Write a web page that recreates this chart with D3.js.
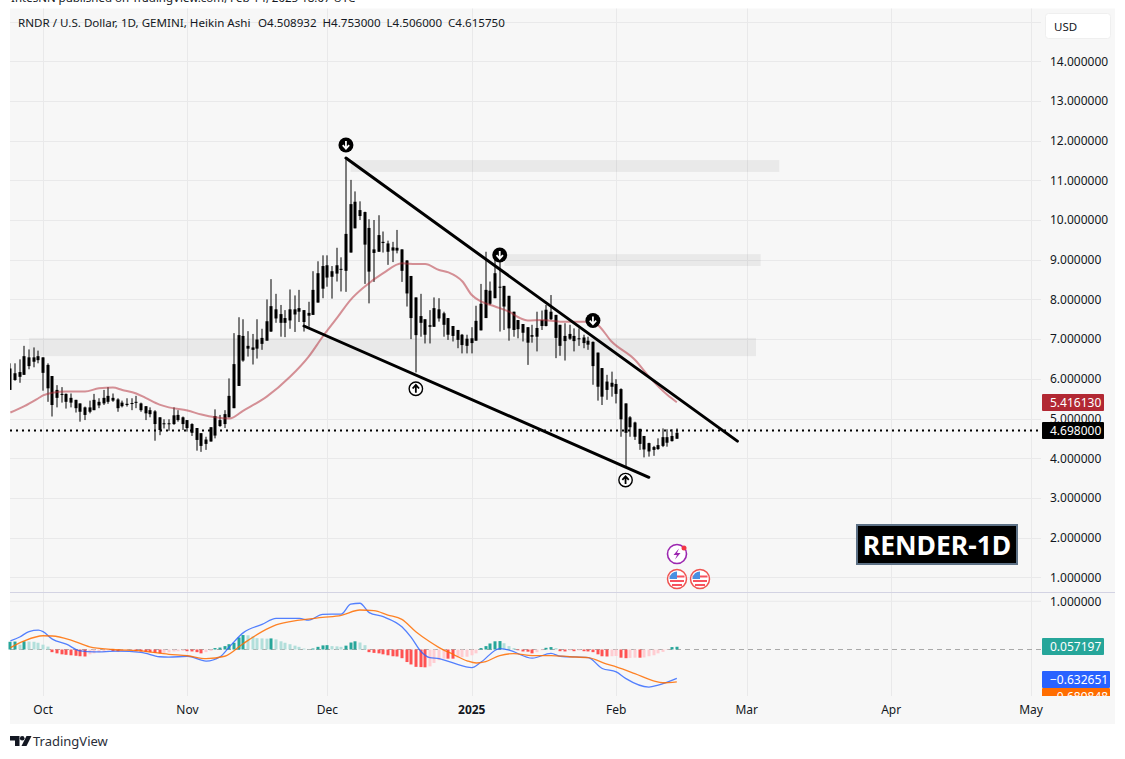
<!doctype html>
<html>
  <head>
    <meta http-equiv="Content-Type" content="text/html; charset=UTF-8">
    <style>
      html, body { margin: 0; padding: 0; background: #fff; overflow: hidden; }
      svg { display: block; }
      text { font-family: "Noto Sans", sans-serif; fill: #131722; }
    </style>
  </head>
  <body>
    <div id="chart"></div>
    <script src="https://d3js.org/d3.v7.min.js"></script>
    <script>
      // daily Heikin Ashi candles, first one is 24 Sep 2024
      var firstDay = Date.UTC(2024, 8, 24);
      var high = [6.39,6.39,6.49,6.83,6.74,6.79,6.71,6.54,6.39,6.07,5.84,5.79,5.63,5.63,5.47,5.38,5.30,5.45,5.62,5.51,5.72,5.79,5.63,5.51,5.45,5.51,5.51,5.57,5.40,5.31,5.28,5.21,5.03,4.98,4.98,5.28,5.21,5.05,4.96,4.88,4.76,4.63,4.54,4.78,5.23,5.09,5.21,
        6.01,7.15,7.55,7.50,7.20,7.13,7.50,7.26,8.00,8.51,8.14,7.86,7.73,8.25,8.10,8.24,7.73,7.94,8.71,8.96,9.11,9.11,8.84,9.30,9.06,11.53,11.01,10.72,10.47,10.21,10.02,10.00,10.12,9.71,9.48,9.45,9.75,9.26,8.99,8.59,8.05,8.14,7.50,7.73,8.05,8.03,
        7.69,7.53,7.33,7.23,7.13,7.11,7.30,7.84,8.39,9.20,8.45,9.16,9.00,8.34,8.09,7.69,7.48,7.38,7.30,7.36,7.69,7.72,7.86,8.11,7.61,7.36,7.40,7.36,7.27,7.27,7.11,7.06,6.94,6.66,6.27,6.10,6.18,5.99,5.76,5.38,5.06,4.92,4.74,4.56,4.39,4.31,4.50,4.75,4.73,4.73,4.75];
      var bodyTop = [6.26,6.14,6.17,6.57,6.54,6.54,6.57,6.54,6.35,6.07,5.72,5.62,5.62,5.52,5.47,5.38,5.28,5.28,5.47,5.42,5.52,5.57,5.52,5.48,5.40,5.37,5.39,5.42,5.38,5.31,5.21,5.18,5.03,4.88,4.88,5.08,5.09,5.03,4.96,4.86,4.76,4.63,4.47,4.78,5.06,4.96,5.11,
        5.57,6.37,7.10,7.08,6.83,6.79,6.99,7.03,7.45,7.83,7.75,7.63,7.53,7.75,7.75,7.78,7.73,7.66,8.24,8.66,8.84,8.86,8.71,8.86,8.77,9.65,10.40,10.46,10.25,10.20,9.80,9.26,9.62,9.45,9.41,9.31,9.30,9.26,8.98,8.59,8.05,7.58,7.50,7.35,7.78,7.75,
        7.65,7.53,7.33,7.23,7.11,7.01,7.02,7.46,7.89,8.24,8.22,8.66,8.32,8.34,8.09,7.69,7.48,7.38,7.30,7.10,7.28,7.48,7.74,7.69,7.61,7.36,7.08,7.13,7.08,7.02,7.04,6.96,6.93,6.66,6.27,5.93,5.90,5.87,5.74,5.38,5.03,4.90,4.74,4.56,4.38,4.28,4.33,4.53,4.53,4.56,4.64];
      var bodyBottom = [5.72,5.97,6.05,6.10,6.32,6.43,6.47,6.15,5.76,5.34,5.52,5.60,5.42,5.40,5.26,5.17,5.09,5.17,5.21,5.33,5.38,5.42,5.45,5.26,5.31,5.34,5.37,5.40,5.21,5.13,5.11,4.86,4.71,4.86,4.86,4.86,4.96,4.86,4.76,4.64,4.46,4.31,4.36,4.42,4.57,4.81,4.86,
        5.03,5.26,5.82,6.46,6.76,6.73,6.76,6.88,6.96,7.19,7.52,7.41,7.41,7.47,7.62,7.69,7.43,7.59,7.61,7.92,8.27,8.55,8.57,8.65,8.75,8.72,9.18,9.79,10.10,9.38,8.70,9.17,9.20,9.42,9.20,9.23,9.23,8.72,8.15,7.53,7.10,7.41,7.11,7.31,7.31,7.52,
        7.36,7.11,7.08,6.98,6.85,6.83,6.90,6.96,7.22,7.53,7.89,8.03,8.31,7.82,7.27,7.23,7.25,7.16,6.91,7.06,7.06,7.33,7.33,7.50,7.03,6.83,6.95,7.01,6.95,7.01,6.90,6.86,6.32,5.80,5.55,5.72,5.80,5.62,4.98,4.64,4.78,4.54,4.36,4.22,4.17,4.21,4.23,4.31,4.39,4.43,4.49];
      var low = [5.72,5.95,5.90,6.10,6.24,6.29,6.39,5.70,5.42,5.05,5.28,5.40,5.25,5.28,5.15,4.92,4.96,5.13,5.21,5.26,5.34,5.37,5.42,5.17,5.28,5.30,5.21,5.26,5.17,4.96,5.03,4.44,4.58,4.75,4.69,4.84,4.92,4.71,4.67,4.56,4.19,4.16,4.21,4.42,4.50,4.79,4.76,
        5.03,5.26,5.82,6.43,6.56,6.36,6.51,6.73,6.96,7.18,7.41,7.06,7.05,7.26,7.18,7.43,7.19,7.31,7.61,7.92,8.03,8.32,8.02,8.45,8.20,8.19,9.18,9.79,10.00,8.39,7.90,8.44,9.20,9.18,8.87,8.94,9.16,8.44,7.82,7.00,6.16,7.06,6.89,6.89,7.31,7.44,
        7.06,6.98,6.94,6.77,6.64,6.64,6.64,6.96,7.22,7.53,7.86,8.03,7.19,7.23,6.96,7.06,7.02,6.94,6.35,6.91,6.69,7.23,7.32,7.48,6.52,6.58,6.46,6.98,6.69,6.83,6.77,6.73,5.85,5.45,5.34,5.47,5.55,5.38,4.54,3.79,4.54,4.46,4.21,4.02,4.04,4.06,4.21,4.28,4.29,4.42,4.49];

      // moving average, read at a set of day offsets
      var maDays = [0,3,6,7,9,12,16,19,22,24,27,29,32,34,38,41,44,47,50,55,60,64,67,70,73,76,80,84,87,89,92,94,97,99,101,104,107,109,111,114,118,124,126,129,134,137,141,143];
      var maVals = [5.15,5.31,5.51,5.58,5.65,5.68,5.68,5.76,5.78,5.72,5.63,5.52,5.35,5.28,5.20,5.10,5.03,5.00,5.20,5.55,6.05,6.56,7.06,7.52,7.99,8.32,8.66,8.91,8.89,8.89,8.74,8.68,8.45,8.11,7.95,7.82,7.69,7.55,7.47,7.48,7.44,7.44,7.36,6.94,6.48,6.06,5.59,5.41];

      // MACD pane
      var hist = [.16,.165,.10,.17,.165,.16,.14,.10,.06,-.055,-.08,-.10,-.11,-.12,-.13,-.14,-.145,-.10,-.08,-.06,-.05,-.02,-.03,-.04,-.03,-.02,-.01,-.035,-.04,-.05,-.055,-.07,-.08,-.07,-.06,-.04,-.035,-.03,-.035,-.04,-.055,-.08,-.055,-.03,.03,.04,.07,.11,.14,.25,.30,.295,.27,.235,.23,.225,.23,.21,.17,.14,.11,.08,.055,.02,.007,.02,.055,.085,.09,.07,.065,.055,.08,.145,.17,.145,.09,
        -.055,-.07,-.08,-.10,-.12,-.14,-.145,-.18,-.26,-.31,-.36,-.365,-.37,-.35,-.28,-.22,-.19,-.19,-.19,-.17,-.16,-.15,-.12,-.08,.03,.07,.125,.17,.175,.13,.07,.03,-.015,-.04,-.045,-.08,-.055,-.015,.035,.05,.03,-.035,-.04,-.02,-.035,-.02,-.035,-.04,-.055,-.10,-.14,-.145,-.14,-.135,-.17,-.18,-.175,-.17,-.17,-.165,-.14,-.12,-.08,-.05,-.01,.05,.057];
      var macdDays = [0,2,4,6,7,9,12,15,18,23,28,32,34,38,42,45,47,50,54,57,62,64,67,71,73,75,77,80,84,86,88,90,92,95,99,101,105,107,112,116,118,124,127,130,132,137,139,143];
      var macdVals = [.18,.26,.37,.40,.37,.215,.11,-.03,-.05,-.035,-.06,-.15,-.16,-.14,-.24,-.15,.055,.35,.52,.645,.645,.61,.73,.735,.94,.96,.765,.68,.47,.25,-.03,-.17,-.19,-.28,-.375,-.26,.02,-.015,-.18,-.08,-.14,-.17,-.395,-.465,-.60,-.78,-.74,-.60];
      var signalDays = [0,3,7,9,13,17,22,28,34,38,42,46,50,54,57,62,67,71,75,78,81,84,87,90,92,95,98,100,102,105,108,112,116,120,124,128,130,134,138,140,143];
      var signalVals = [.04,.18,.285,.28,.195,.055,0,-.03,-.10,-.13,-.19,-.14,.125,.37,.51,.61,.665,.71,.82,.805,.715,.625,.37,.16,.04,-.10,-.235,-.28,-.25,-.125,-.085,-.125,-.125,-.15,-.17,-.305,-.36,-.50,-.65,-.69,-.67];

      // drawings: [day offset, price]
      var lineUpper = [[72, 11.56], [156, 4.43]];
      var lineLower = [[63, 7.33], [137, 3.52]];
      // grey zones: [from day, to day, price top, price bottom]
      var zones = [[73, 165, 11.51, 11.21], [106, 161, 9.14, 8.84], [4, 160, 7.03, 6.57]];
      // arrow markers: [day offset, price]
      var downMarks = [[72, 11.89], [105, 9.12], [125, 7.47]];
      var upMarks = [[87, 5.75], [132, 3.45]];

      var priceTicks = [1,2,3,4,5,6,7,8,9,10,11,12,13,14];
      var monthTicks = [Date.UTC(2024,9,1), Date.UTC(2024,10,1), Date.UTC(2024,11,1), Date.UTC(2025,0,1),
                        Date.UTC(2025,1,1), Date.UTC(2025,2,1), Date.UTC(2025,3,1), Date.UTC(2025,4,1)];
      var monthLabels = ["Oct","Nov","Dec","2025","Feb","Mar","Apr","May"];

      var lastPrice = 4.698;
      var title = "RNDR / U.S. Dollar, 1D, GEMINI, Heikin Ashi";
      var ohlc = ["O4.508932", "H4.753000", "L4.506000", "C4.615750"];
      var ohlcX = [258, 322.5, 386.5, 448];

      var width = 1125, height = 759, plotRight = 1041;
      var day = function(i) { return new Date(firstDay + i * 864e5); };

      var x = d3.scaleUtc()
          .domain([day(0), new Date(monthTicks[7])])
          .range([10.4, 1031]);
      var y = d3.scaleLinear().domain([0, 15]).range([617, 21.5]);
      var yM = d3.scaleLinear().domain([-1, 1]).range([697.7, 601.3]);

      var svg = d3.select("#chart").append("svg")
          .attr("width", width).attr("height", height);

      svg.append("text").attr("x", 11).attr("y", 2)
          .style("font-size", "11.5px")
          .text("IntesNN published on TradingView.com, Feb 14, 2025 18:07 UTC");

      svg.append("rect").attr("x", 10).attr("y", 8.5)
          .attr("width", 1105).attr("height", 715.5).attr("fill", "#f7f7f7");

      // grid
      var grid = svg.append("g").attr("stroke", "#e9e9ea").attr("fill", "none");
      grid.selectAll(".h").data(priceTicks.concat([15])).enter().append("line")
          .attr("x1", 10).attr("x2", plotRight)
          .attr("y1", function(d) { return Math.round(y(d)) + .5; })
          .attr("y2", function(d) { return Math.round(y(d)) + .5; });
      grid.append("line").attr("x1", 10).attr("x2", plotRight)
          .attr("y1", yM(1)).attr("y2", yM(1));
      grid.selectAll(".v").data(monthTicks).enter().append("line")
          .attr("x1", function(d) { return Math.round(x(new Date(d))) + .5; })
          .attr("x2", function(d) { return Math.round(x(new Date(d))) + .5; })
          .attr("y1", 8.5).attr("y2", 696);

      svg.append("line").attr("x1", 10).attr("x2", 1115)
          .attr("y1", 592.5).attr("y2", 592.5).attr("stroke", "#d3d3e3");

      // zones
      svg.selectAll(".zone").data(zones).enter().append("rect")
          .attr("x", function(d) { return x(day(d[0])); })
          .attr("width", function(d) { return x(day(d[1])) - x(day(d[0])); })
          .attr("y", function(d) { return y(d[2]); })
          .attr("height", function(d) { return y(d[3]) - y(d[2]); })
          .attr("fill", "#000").attr("fill-opacity", .055);

      // candles
      var candles = svg.append("g").attr("clip-path", "url(#plotclip)");
      svg.append("clipPath").attr("id", "plotclip").append("rect")
          .attr("x", 10).attr("y", 9).attr("width", 1031).attr("height", 583);
      high.forEach(function(h, i) {
          var cx = Math.round(x(day(i)));
          candles.append("line").attr("x1", cx).attr("x2", cx)
              .attr("y1", y(h)).attr("y2", y(low[i]))
              .attr("stroke", "#000").attr("stroke-width", 1);
          candles.append("rect").attr("x", cx - 1.5).attr("width", 3)
              .attr("y", y(bodyTop[i]))
              .attr("height", Math.max(1, y(bodyBottom[i]) - y(bodyTop[i])))
              .attr("fill", "#000");
      });

      // last price line
      svg.append("line").attr("x1", 10).attr("x2", plotRight)
          .attr("y1", y(lastPrice)).attr("y2", y(lastPrice))
          .attr("stroke", "#000").attr("stroke-width", 2).attr("stroke-dasharray", "2 4");

      // moving average
      var maLine = d3.line().curve(d3.curveMonotoneX)
          .x(function(d) { return x(day(d)); })
          .y(function(d, i) { return y(maVals[i]); });
      svg.append("path").attr("d", maLine(maDays)).attr("fill", "none")
          .attr("stroke", "#b22833").attr("stroke-opacity", .5).attr("stroke-width", 2);

      // trend lines
      var trend = d3.line()
          .x(function(d) { return x(day(d[0])); })
          .y(function(d) { return y(d[1]); });
      [lineUpper, lineLower].forEach(function(l) {
          svg.append("path").attr("d", trend(l)).attr("fill", "none")
              .attr("stroke", "#000").attr("stroke-width", 3).attr("stroke-linecap", "round");
      });

      // arrow markers
      function arrow(g, dir, color) {
          g.append("path")
              .attr("d", "M0," + (-4 * dir) + "V" + (3.5 * dir) + "M-3.2," + (.2 * dir) + "L0," + (3.8 * dir) + "L3.2," + (.2 * dir))
              .attr("fill", "none").attr("stroke", color).attr("stroke-width", 1.8);
      }
      downMarks.forEach(function(d) {
          var g = svg.append("g").attr("transform", "translate(" + x(day(d[0])) + "," + y(d[1]) + ")");
          g.append("circle").attr("r", 7.5).attr("fill", "#000");
          arrow(g, 1, "#fff");
      });
      upMarks.forEach(function(d) {
          var g = svg.append("g").attr("transform", "translate(" + x(day(d[0])) + "," + y(d[1]) + ")");
          g.append("circle").attr("r", 6.7).attr("fill", "#fff").attr("stroke", "#000").attr("stroke-width", 1.4);
          arrow(g, -1, "#000");
      });

      // MACD histogram, shade follows the change from the previous bar
      svg.append("line").attr("x1", 10).attr("x2", plotRight)
          .attr("y1", yM(0)).attr("y2", yM(0))
          .attr("stroke", "#aaa").attr("stroke-dasharray", "5 4");
      svg.selectAll(".hist").data(hist).enter().append("rect")
          .attr("x", function(d, i) { return Math.round(x(day(i))) - 1.5; })
          .attr("width", 3)
          .attr("y", function(d) { return Math.min(yM(d), yM(0)); })
          .attr("height", function(d) { return Math.abs(yM(d) - yM(0)); })
          .attr("fill", function(d, i) {
              var rising = i > 0 ? d > hist[i - 1] : true;
              if (d >= 0) return rising ? "#26a69a" : "#b2dfdb";
              return rising ? "#ffcdd2" : "#ff5252";
          });
      var mLine = function(vals) {
          return d3.line().curve(d3.curveMonotoneX)
              .x(function(d) { return x(day(d)); })
              .y(function(d, i) { return yM(vals[i]); });
      };
      svg.append("path").attr("d", mLine(macdVals)(macdDays)).attr("fill", "none")
          .attr("stroke", "#2962ff").attr("stroke-opacity", .8).attr("stroke-width", 1.3);
      svg.append("path").attr("d", mLine(signalVals)(signalDays)).attr("fill", "none")
          .attr("stroke", "#ff6d00").attr("stroke-opacity", .85).attr("stroke-width", 1.3);

      // axes
      var axR = d3.axisRight(y).tickValues(priceTicks).tickSize(0).tickPadding(0)
          .tickFormat(function(d) { return d.toFixed(6); });
      var gR = svg.append("g").attr("transform", "translate(1050,0)").call(axR);
      gR.select(".domain").remove();
      var axB = d3.axisBottom(x).tickValues(monthTicks.map(function(d) { return new Date(d); }))
          .tickSize(0).tickPadding(0)
          .tickFormat(function(d, i) { return monthLabels[i]; });
      var gB = svg.append("g").attr("transform", "translate(-0.5,705)").call(axB);
      gB.select(".domain").remove();
      gB.selectAll("text").style("font-weight", function(d, i) { return monthLabels[i] === "2025" ? "700" : "400"; });
      svg.selectAll("g.tick text").style("font-family", '"Noto Sans", sans-serif')
          .style("font-size", "12px").attr("fill", "#131722");
      svg.append("text").attr("x", 1050).attr("y", yM(1) + 4.5).style("font-size", "12px").text("1.000000");

      // tags on the price scale
      function tag(label, yy, w, color, clip) {
          var g = svg.append("g");
          if (clip) g.attr("clip-path", "url(#paneclip)");
          g.append("rect").attr("x", 1042).attr("y", yy).attr("width", w).attr("height", 17)
              .attr("rx", 1).attr("fill", color);
          g.append("text").attr("x", 1050).attr("y", yy + 13)
              .style("font-size", "12px").style("fill", "#fff").text(label);
      }
      svg.append("clipPath").attr("id", "paneclip").append("rect")
          .attr("x", 1036).attr("y", 596).attr("width", 80).attr("height", 100);
      tag("5.416130", 394, 62, "#b22833");
      tag("4.698000", 422, 62, "#000");
      tag("0.057197", 638, 62, "#26a69a");
      tag("\u22120.689848", 688, 68, "#ff6d00", true);
      tag("\u22120.632651", 671, 68, "#2962ff");

      // currency box
      svg.append("rect").attr("x", 1045.5).attr("y", 13.5).attr("width", 65).attr("height", 25)
          .attr("rx", 3).attr("fill", "#fff").attr("stroke", "#efefef");
      svg.append("text").attr("x", 1054).attr("y", 31).style("font-size", "11.5px").text("USD");

      // header
      svg.append("text").attr("x", 18).attr("y", 27).style("font-size", "11.6px").text(title);
      ohlc.forEach(function(t, i) {
          svg.append("text").attr("x", ohlcX[i]).attr("y", 27).style("font-size", "11.6px").text(t);
      });

      // watermark
      svg.append("rect").attr("x", 857).attr("y", 525).attr("width", 160).attr("height", 39)
          .attr("fill", "#000").attr("stroke", "#5d7186").attr("stroke-width", 2);
      svg.append("text").attr("x", 937).attr("y", 555).attr("text-anchor", "middle")
          .style("font-size", "26.5px").style("font-weight", "700").style("fill", "#fff").text("RENDER-1D");

      // event icons
      var bolt = svg.append("g").attr("transform", "translate(677,554)");
      bolt.append("circle").attr("r", 9.5).attr("fill", "#fff").attr("stroke", "#9c27b0").attr("stroke-width", 1.6);
      bolt.append("path").attr("d", "M2,-5.5L-3.5,1H0L-2,5.5L3.5,-1H0Z").attr("fill", "#9c27b0");
      bolt.append("circle").attr("cx", 7).attr("cy", -6).attr("r", 2.5).attr("fill", "#f23645");
      [677, 700].forEach(function(cx) {
          var g = svg.append("g").attr("transform", "translate(" + cx + ",579)");
          g.append("circle").attr("r", 9.5).attr("fill", "#fff").attr("stroke", "#ef5350").attr("stroke-width", 1.5);
          g.append("path").attr("d", "M-7.5,-2.5H7.5M-7,2H7M-5,6H5").attr("stroke", "#f7525f").attr("stroke-width", 2);
          g.append("path").attr("d", "M-7.5,-1A7.5,7.5 0 0 1 0,-7.5V0H-7.5Z").attr("fill", "#4a90e2");
      });

      // footer logo
      var logo = svg.append("g").attr("transform", "translate(10,736)").attr("fill", "#131722");
      logo.append("path").attr("d", "M0,0H9.5V10H5V4.5H0Z");
      logo.append("circle").attr("cx", 12.2).attr("cy", 2.3).attr("r", 2.3);
      logo.append("path").attr("d", "M16.5,0H21.5L16.5,10H11.5Z");
      svg.append("text").attr("x", 33).attr("y", 746).style("font-size", "13px").style("fill", "#2a2e39").text("TradingView");
    </script>
  </body>
</html>
